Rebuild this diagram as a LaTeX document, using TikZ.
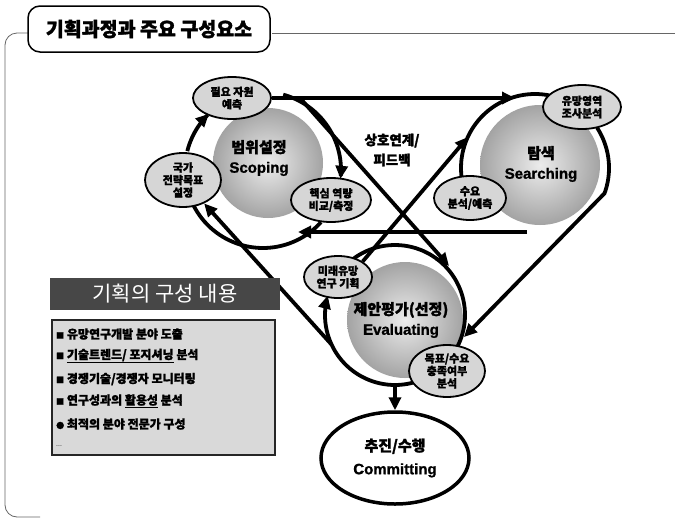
\documentclass[tikz,border=0pt]{standalone}
\usepackage{fontspec}
\setmainfont{Noto Sans CJK KR}
\newfontfamily\kr{Noto Sans CJK KR}
\newfontfamily\krh{Noto Sans CJK KR}[FakeBold=1.6]
\newfontfamily\lat{Liberation Sans}[FakeBold=1.2]
\usetikzlibrary{arrows.meta,shapes.geometric,calc}
\pgfdeclarelayer{bg}
\pgfdeclarelayer{back}
\pgfsetlayers{back,bg,main}
\begin{document}
\begin{tikzpicture}[x=1pt,y=-1pt,
  ring/.style={line width=3.8pt},
  arr/.style={line width=3.8pt,-{Triangle[length=13pt,width=12pt]}},
  subell/.style={ellipse,draw=black,line width=1.8pt,fill=gray!32,inner sep=0pt,align=center,
    font=\krh\bfseries\fontsize{11}{12.5}\selectfont},
  ballc/.style={circle,inner sep=0pt,shading=radial,inner color=gray!15,outer color=gray!72},
  balltxt/.style={align=center,font=\bfseries\fontsize{15}{20}\selectfont},
  item/.style={anchor=west,inner sep=0pt,font=\krh\bfseries\fontsize{12}{13}\selectfont},
  frame/.style={draw=black!60,line width=0.8pt}
]
\useasboundingbox (0,0) rectangle (675,528);
\begin{pgfonlayer}{back}
\fill[white] (0,0) rectangle (675,528);
\end{pgfonlayer}

% frame
\draw[frame] (675,33) -- (272,33);
\draw[frame,rounded corners=12pt] (28,33) -- (5,33) -- (5,517) -- (40,517);

% title
\node[draw,line width=1.5pt,rounded corners=12pt,fill=white,minimum width=242pt,minimum height=46pt,
  inner sep=0pt,font=\krh\bfseries\fontsize{19.5}{22}\selectfont] (title) at (149,29) {기획과정과 주요 구성요소};

% balls
\begin{pgfonlayer}{back}
\node[ballc,minimum size=110pt] (scB) at (268,163) {};
\node[ballc,minimum size=120pt] (seB) at (540,165) {};
\node[ballc,minimum size=116pt] (evB) at (405,320) {};
\end{pgfonlayer}

% sub ellipses
\node[subell,minimum width=78pt,minimum height=42pt] (piryo) at (232,98) {필요 자원\\예측};
\node[subell,minimum width=76pt,minimum height=54pt] (gukga) at (183,180) {국가\\전략목표\\설정};
\node[subell,minimum width=80pt,minimum height=44pt] (haek) at (331,200) {핵심 역량\\비교/측정};
\node[subell,minimum width=78pt,minimum height=44pt] (yumang) at (582,107) {유망영역\\조사분석};
\node[subell,minimum width=72pt,minimum height=44pt] (suyo) at (470,198) {수요\\분석/예측};
\node[subell,minimum width=68pt,minimum height=42pt] (mirae) at (338,277) {미래유망\\연구 기획};
\node[subell,minimum width=76pt,minimum height=52pt] (mokpyo) at (447,371) {목표/수요\\충족여부\\분석};

% committing
\node[ellipse,draw,line width=3.5pt,fill=white,minimum width=148pt,minimum height=92pt,align=center,
  font=\bfseries\fontsize{15}{23}\selectfont] (commit) at (395,458) {{\krh 추진/수행}\\{\lat Committing}};

% ball texts
\node[balltxt] (scT) at (259,158) {{\krh 범위설정}\\{\lat Scoping}};
\node[balltxt] (seT) at (541,164) {{\krh 탐색}\\{\lat Searching}};
\node[balltxt] (evT) at (401,320) {{\krh 제안평가(선정)}\\{\lat Evaluating}};

% centre label
\node[align=center,font=\krh\bfseries\fontsize{13.5}{20}\selectfont] (fb) at (392,150) {상호연계/\\피드백};

% coordinates
\coordinate (qtop) at (515,98);
\coordinate (aS) at (300,98);
\coordinate (aE) at (449,266);
\coordinate (bE) at (468,137);
\coordinate (cE) at (464,337);
\coordinate (hS) at (527,232);
\coordinate (hE) at (298,232);
\coordinate (lS) at (331.6,344.6);
\coordinate (eb) at (395,385);

\begin{pgfonlayer}{bg}
% scoping ring
\draw[arr] plot[domain=194:226,samples=25] ({263+78*cos(\x)},{170+78*sin(\x)});
\draw[arr] plot[domain=285:366.5,samples=40] ({263+78*cos(\x)},{170+78*sin(\x)});
\draw[ring] plot[domain=42:153,samples=40] ({263+78*cos(\x)},{170+78*sin(\x)});
% searching ring
\draw[ring] plot[domain=173:281,samples=40] ({535+74*cos(\x)},{168+74*sin(\x)});
\draw[arr] plot[domain=327:380,samples=30] ({535+74*cos(\x)},{168+74*sin(\x)}) -- (cE);
% evaluating ring
\draw[ring] plot[domain=233:389,samples=50] ({395+70*cos(\x)},{315+70*sin(\x)});
\draw[arr] plot[domain=74:196,samples=40] ({395+70*cos(\x)},{315+70*sin(\x)});
% connectors
\draw[arr] (piryo.east) -- (qtop);
\draw[arr] (aS) -- (aE);
\draw[arr] (mirae.north east) -- (bE);
\draw[arr] (hS) -- (hE);
\draw[arr] (lS) -- (gukga);
\draw[arr] (eb) -- (commit.north);
\end{pgfonlayer}

% left panel
\node[fill=black!72,minimum width=230pt,minimum height=32pt,inner sep=0pt,text=white,
  font=\kr\fontsize{21}{24}\selectfont] (hdr) at (165,294) {기획의 구성 내용};
\node[draw=black!85,line width=1.5pt,fill=gray!30,minimum width=223pt,minimum height=135pt,inner sep=0pt] (lst) at (163.5,387.5) {};
\node[item] (i1) at (56,334) {{\fontsize{8}{8}\selectfont■} 유망연구개발 분야 도출};
\node[item] (i2) at (56,356) {{\fontsize{8}{8}\selectfont■} \underline{기술트렌드/ 포지셔닝} 분석};
\node[item] (i3) at (56,379) {{\fontsize{8}{8}\selectfont■} 경쟁기술/경쟁자 모니터링};
\node[item] (i4) at (56,401) {{\fontsize{8}{8}\selectfont■} 연구성과의 \underline{활용성} 분석};
\node[item] (i5) at (56,424) {{\fontsize{8}{8}\selectfont●} 최적의 분야 전문가 구성};
\node[item,font=\kr\fontsize{7}{8}\selectfont] (i6) at (56,446) {...};
\end{tikzpicture}
\end{document}
